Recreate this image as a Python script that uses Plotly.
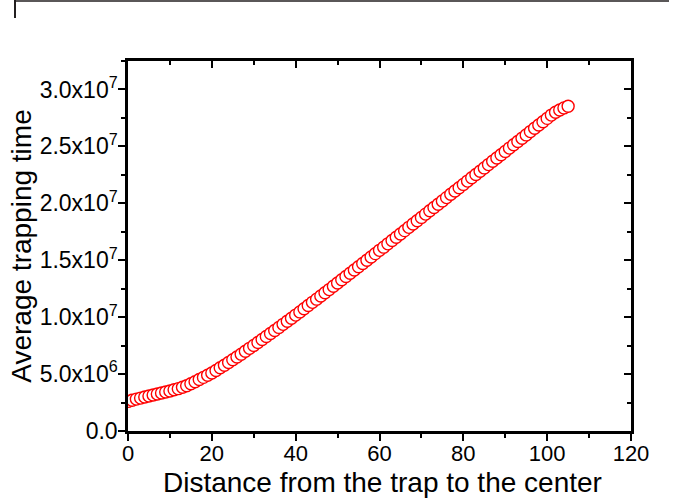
import plotly.graph_objects as go

# Distance from the trap to the center
distance = list(range(0, 106))

# Average trapping time (units of 1e6)
trap_time_e6 = [
    2.60, 2.70, 2.80, 2.89, 2.98, 3.07, 3.16, 3.25, 3.34, 3.43,
    3.52, 3.62, 3.72, 3.84, 3.98,
    4.15, 4.33, 4.52, 4.71, 4.90, 5.10,
    5.32, 5.55, 5.78, 6.02, 6.26, 6.50, 6.75, 7.00,
    7.26, 7.52, 7.78, 8.04, 8.30, 8.56, 8.83, 9.10, 9.37, 9.64, 9.91, 10.18,
    10.46, 10.74, 11.02, 11.30, 11.58, 11.86, 12.14, 12.42, 12.71, 13.00,
    13.28, 13.57, 13.85, 14.14, 14.43, 14.71, 15.00, 15.29, 15.58, 15.87,
    16.15, 16.44, 16.73, 17.02, 17.31, 17.60, 17.89, 18.18,
    18.47, 18.76, 19.05, 19.34, 19.63, 19.92, 20.21, 20.50, 20.79, 21.08,
    21.37, 21.66, 21.95, 22.24, 22.53, 22.82, 23.11, 23.40, 23.69, 23.98,
    24.27, 24.56, 24.85, 25.14, 25.43, 25.72, 26.01, 26.30, 26.59, 26.88,
    27.17, 27.46, 27.75,
    28.00, 28.20, 28.38, 28.52,
]
trap_time = [v * 1e6 for v in trap_time_e6]

y_tickvals = [0, 5e6, 1e7, 1.5e7, 2e7, 2.5e7, 3e7]
y_ticktext = ["0.0", "5.0x10<sup>6</sup>", "1.0x10<sup>7</sup>", "1.5x10<sup>7</sup>",
              "2.0x10<sup>7</sup>", "2.5x10<sup>7</sup>", "3.0x10<sup>7</sup>"]
x_tickvals = [0, 20, 40, 60, 80, 100, 120]
x_ticktext = ["0", "20", "40", "60", "80", "100", "120"]
x_title = "Distance from the trap to the center"
y_title = "Average trapping time"

W, H = 683, 502
ML, MR, MT, MB = 128, 52, 61, 71
PW, PH = W - ML - MR, H - MT - MB
XR = [0, 120]
YR = [0, 3.25e7]

font = "Liberation Sans, Arial, sans-serif"

fig = go.Figure()
fig.add_trace(go.Scatter(
    x=distance, y=trap_time, mode="markers",
    marker=dict(symbol="circle", size=12, color="white",
                line=dict(color="#ff0000", width=1.4)),
    showlegend=False, hoverinfo="x+y",
))
# invisible trace for mirrored (inside-tick) axes
fig.add_trace(go.Scatter(
    x=distance, y=trap_time, mode="markers", xaxis="x2", yaxis="y2",
    marker=dict(opacity=0), showlegend=False, hoverinfo="skip",
))

axis_common = dict(showgrid=False, zeroline=False, showline=True, automargin=False,
                   linecolor="black", linewidth=2.5, tickcolor="black")

fig.update_layout(
    width=W, height=H,
    margin=dict(l=ML, r=MR, t=MT, b=MB, autoexpand=False),
    paper_bgcolor="white", plot_bgcolor="white",
    font=dict(family=font, color="black"),
    xaxis=dict(range=XR, tickvals=x_tickvals, ticktext=x_ticktext,
               ticks="outside", ticklen=7, tickwidth=2, ticklabelstandoff=-6,
               minor=dict(ticks="outside", dtick=10, tick0=0, ticklen=4, tickwidth=2, tickcolor="black"),
               tickfont=dict(size=22, family=font, color="black"),
               **axis_common),
    yaxis=dict(range=YR, tickvals=y_tickvals, ticktext=y_ticktext,
               ticks="outside", ticklen=7, tickwidth=2, ticklabelstandoff=-4,
               minor=dict(ticks="outside", dtick=2.5e6, tick0=0, ticklen=4, tickwidth=2, tickcolor="black"),
               tickfont=dict(size=23, family=font, color="black"),
               title=dict(text=y_title, font=dict(size=28, family=font, color="black"),
                          standoff=0),
               **axis_common),
    xaxis2=dict(range=XR, overlaying="x", side="top", tickvals=x_tickvals,
                ticks="inside", ticklen=7, tickwidth=2, showticklabels=False,
                minor=dict(ticks="inside", dtick=10, tick0=0, ticklen=4, tickwidth=2, tickcolor="black"),
                **axis_common),
    yaxis2=dict(range=YR, overlaying="y", side="right", tickvals=y_tickvals,
                ticks="inside", ticklen=7, tickwidth=2, showticklabels=False,
                minor=dict(ticks="inside", dtick=2.5e6, tick0=0, ticklen=4, tickwidth=2, tickcolor="black"),
                **axis_common),
)

def px_to_paper(px, py):
    return (px - ML) / PW, (H - MB - py) / PH

# x-axis title placed as annotation for precise vertical position
tx, ty = px_to_paper(382, 465)
fig.add_annotation(text=x_title, xref="paper", yref="paper", x=tx, y=ty,
                   xanchor="center", yanchor="top", showarrow=False,
                   font=dict(size=28, family=font, color="black"))

x0, y0 = px_to_paper(15, 0)
x1, y1 = px_to_paper(15, 18)
x2, _ = px_to_paper(669, 1)
_, yt = px_to_paper(0, 1)
fig.add_shape(type="line", xref="paper", yref="paper", x0=x0, y0=y0, x1=x1, y1=y1,
              line=dict(color="#231f20", width=2))
fig.add_shape(type="line", xref="paper", yref="paper", x0=x0, y0=yt, x1=x2, y1=yt,
              line=dict(color="#231f20", width=1.5))

fig.write_html("out.html", config={"displayModeBar": False},
               post_script="document.body.style.margin='0';")
